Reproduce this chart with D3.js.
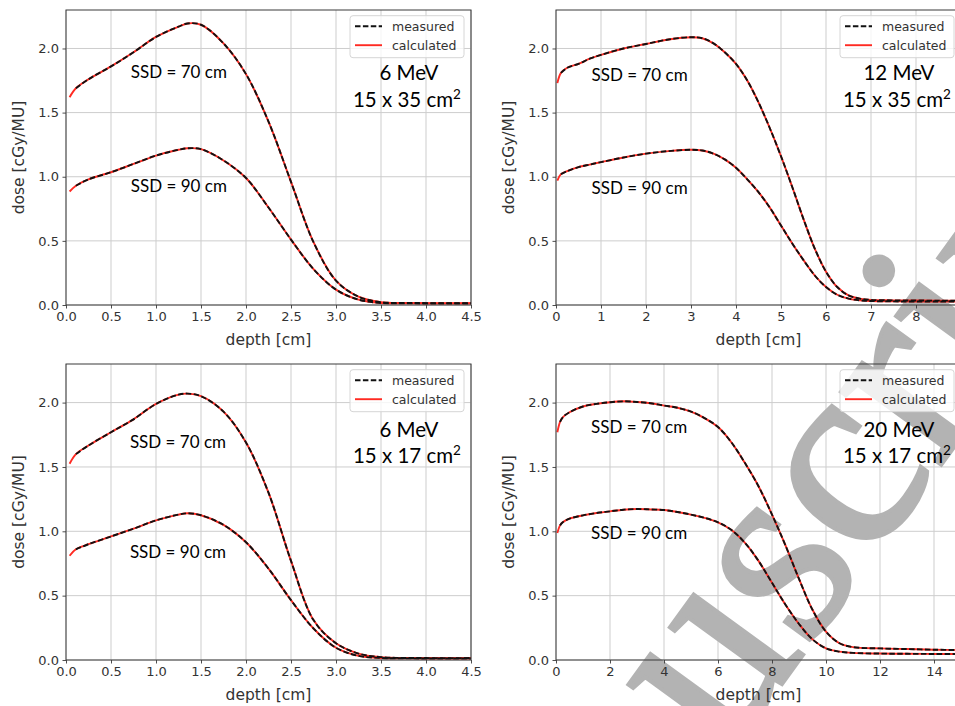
<!DOCTYPE html>
<html><head><meta charset="utf-8">
<script src="https://cdn.jsdelivr.net/npm/d3@7/dist/d3.min.js"></script>
<style>body{margin:0;background:#fff}svg{display:block}</style>
</head><body>
<svg id="chart" width="955" height="706"></svg>
<script>
// ---------- DATA ----------
// Panel 1: 6 MeV, 15 x 35 cm2
const p1DepthCalc = [0.04,0.11,0.25,0.5,0.75,1.0,1.25,1.35,1.5,1.75,2.0,2.25,2.5,2.75,3.0,3.25,3.5,3.75,4.0,4.5];
const p1Calc70 = [1.62,1.69,1.76,1.86,1.97,2.09,2.17,2.195,2.185,2.04,1.80,1.43,0.96,0.49,0.19,0.065,0.022,0.016,0.015,0.015];
const p1Calc90 = [0.885,0.93,0.98,1.035,1.10,1.165,1.21,1.222,1.215,1.127,0.99,0.76,0.51,0.28,0.12,0.042,0.016,0.013,0.012,0.012];
const p1DepthMeas = [0.11,0.25,0.5,0.75,1.0,1.25,1.35,1.5,1.75,2.0,2.25,2.5,2.75,3.0,3.25,3.5,3.75,4.0,4.5];
const p1Meas70 = [1.69,1.76,1.86,1.97,2.09,2.17,2.195,2.185,2.04,1.80,1.43,0.96,0.49,0.19,0.065,0.022,0.016,0.015,0.015];
const p1Meas90 = [0.93,0.98,1.035,1.10,1.165,1.21,1.222,1.215,1.127,0.99,0.76,0.51,0.28,0.12,0.042,0.016,0.013,0.012,0.012];

// Panel 2: 12 MeV, 15 x 35 cm2
const p2DepthCalc = [0.03,0.11,0.25,0.5,0.75,1,1.5,2,2.5,3,3.25,3.5,3.75,4,4.25,4.5,4.75,5,5.25,5.5,5.75,6,6.25,6.5,6.75,7,7.5,8,8.5,9];
const p2Calc70 = [1.73,1.81,1.85,1.88,1.92,1.95,2.0,2.035,2.07,2.088,2.08,2.04,1.97,1.88,1.75,1.58,1.38,1.16,0.92,0.67,0.44,0.26,0.14,0.075,0.05,0.04,0.036,0.035,0.034,0.034];
const p2Calc90 = [0.97,1.02,1.044,1.075,1.095,1.114,1.15,1.18,1.20,1.21,1.205,1.18,1.135,1.07,0.98,0.88,0.76,0.62,0.48,0.35,0.23,0.14,0.08,0.05,0.036,0.031,0.028,0.027,0.027,0.027];
const p2DepthMeas = [0.11,0.25,0.5,0.75,1,1.5,2,2.5,3,3.25,3.5,3.75,4,4.25,4.5,4.75,5,5.25,5.5,5.75,6,6.25,6.5,6.75,7,7.5,8,8.5,9];
const p2Meas70 = [1.81,1.85,1.88,1.92,1.95,2.0,2.035,2.07,2.088,2.08,2.04,1.97,1.88,1.75,1.58,1.38,1.16,0.92,0.67,0.44,0.26,0.14,0.075,0.05,0.04,0.036,0.035,0.034,0.034];
const p2Meas90 = [1.02,1.044,1.075,1.095,1.114,1.15,1.18,1.20,1.21,1.205,1.18,1.135,1.07,0.98,0.88,0.76,0.62,0.48,0.35,0.23,0.14,0.08,0.05,0.036,0.031,0.028,0.027,0.027,0.027];

// Panel 3: 6 MeV, 15 x 17 cm2
const p3DepthCalc = [0.04,0.11,0.25,0.5,0.75,1.0,1.25,1.35,1.5,1.75,2.0,2.25,2.5,2.75,3.0,3.25,3.5,3.75,4.0,4.5];
const p3Calc70 = [1.525,1.60,1.667,1.77,1.87,1.99,2.062,2.07,2.05,1.93,1.69,1.30,0.77,0.31,0.13,0.05,0.022,0.016,0.015,0.015];
const p3Calc90 = [0.81,0.86,0.90,0.96,1.02,1.085,1.13,1.14,1.125,1.05,0.915,0.71,0.465,0.245,0.095,0.032,0.016,0.013,0.012,0.012];
const p3DepthMeas = [0.11,0.25,0.5,0.75,1.0,1.25,1.35,1.5,1.75,2.0,2.25,2.5,2.75,3.0,3.25,3.5,3.75,4.0,4.5];
const p3Meas70 = [1.60,1.667,1.77,1.87,1.99,2.062,2.07,2.05,1.93,1.69,1.30,0.77,0.31,0.13,0.05,0.022,0.016,0.015,0.015];
const p3Meas90 = [0.86,0.90,0.96,1.02,1.085,1.13,1.14,1.125,1.05,0.915,0.71,0.465,0.245,0.095,0.032,0.016,0.013,0.012,0.012];

// Panel 4: 20 MeV, 15 x 17 cm2
const p4DepthCalc = [0.05,0.15,0.25,0.5,1,1.5,2,2.5,3,3.5,4,4.5,5,5.5,6,6.5,7,7.5,8,8.5,9,9.5,10,10.5,11,12,13,14,15];
const p4Calc70 = [1.77,1.85,1.886,1.925,1.97,1.99,2.003,2.01,2.005,1.995,1.977,1.96,1.93,1.88,1.81,1.69,1.53,1.35,1.13,0.89,0.63,0.39,0.22,0.13,0.10,0.09,0.085,0.08,0.077];
const p4Calc90 = [0.987,1.046,1.07,1.098,1.124,1.142,1.155,1.168,1.173,1.17,1.165,1.15,1.13,1.105,1.07,1.01,0.91,0.77,0.60,0.43,0.28,0.16,0.09,0.065,0.055,0.05,0.048,0.047,0.046];
const p4DepthMeas = [0.15,0.25,0.5,1,1.5,2,2.5,3,3.5,4,4.5,5,5.5,6,6.5,7,7.5,8,8.5,9,9.5,10,10.5,11,12,13,14,15];
const p4Meas70 = [1.85,1.886,1.925,1.97,1.99,2.003,2.01,2.005,1.995,1.977,1.96,1.93,1.88,1.81,1.69,1.53,1.35,1.13,0.89,0.63,0.39,0.22,0.13,0.10,0.09,0.085,0.08,0.077];
const p4Meas90 = [1.046,1.07,1.098,1.124,1.142,1.155,1.168,1.173,1.17,1.165,1.15,1.13,1.105,1.07,1.01,0.91,0.77,0.60,0.43,0.28,0.16,0.09,0.065,0.055,0.05,0.048,0.047,0.046];

// Ticks (labels beyond the visible right edge are not shown in the reference)
const xTicks6 = [0,0.5,1.0,1.5,2.0,2.5,3.0,3.5,4.0,4.5];
const xTicks12 = [0,1,2,3,4,5,6,7,8];
const xTicks20 = [0,2,4,6,8,10,12,14];
const yTicks = [0,0.5,1.0,1.5,2.0];

// Labels
const xLabel = "depth [cm]";
const yLabel = "dose [cGy/MU]";
const legendLabels = ["measured", "calculated"];
const ssdLabels = ["SSD = 70 cm", "SSD = 90 cm"];
const energyLabels = ["6 MeV", "12 MeV", "6 MeV", "20 MeV"];
const fieldLabels = ["15 x 35 cm", "15 x 35 cm", "15 x 17 cm", "15 x 17 cm"];
const watermarkText = "Manuscript";

// ---------- LAYOUT ----------
const W = 405;
const zip = (a, b) => a.map((v, i) => [v, b[i]]);
const panels = [
  {left:66, top:10, h:295, xMax:4.5, ticks:xTicks6, fmt:d3.format(".1f"),
   calc:[zip(p1DepthCalc,p1Calc70), zip(p1DepthCalc,p1Calc90)], meas:[zip(p1DepthMeas,p1Meas70), zip(p1DepthMeas,p1Meas90)],
   ssdX:0.72, ssdY:[1.82,0.93], eX:3.81, eY:1.81, fY:1.60},
  {left:556, top:10, h:295, xMax:9, ticks:xTicks12, fmt:d3.format("d"),
   calc:[zip(p2DepthCalc,p2Calc70), zip(p2DepthCalc,p2Calc90)], meas:[zip(p2DepthMeas,p2Meas70), zip(p2DepthMeas,p2Meas90)],
   ssdX:0.79, ssdY:[1.79,0.91], eX:7.62, eY:1.81, fY:1.60},
  {left:66, top:364, h:296, xMax:4.5, ticks:xTicks6, fmt:d3.format(".1f"),
   calc:[zip(p3DepthCalc,p3Calc70), zip(p3DepthCalc,p3Calc90)], meas:[zip(p3DepthMeas,p3Meas70), zip(p3DepthMeas,p3Meas90)],
   ssdX:0.71, ssdY:[1.69,0.84], eX:3.81, eY:1.79, fY:1.585},
  {left:556, top:364, h:296, xMax:15, ticks:xTicks20, fmt:d3.format("d"),
   calc:[zip(p4DepthCalc,p4Calc70), zip(p4DepthCalc,p4Calc90)], meas:[zip(p4DepthMeas,p4Meas70), zip(p4DepthMeas,p4Meas90)],
   ssdX:1.3, ssdY:[1.81,0.99], eX:12.7, eY:1.79, fY:1.585}
];

const svg = d3.select("#chart");
const back = svg.append("g");
const wmLayer = svg.append("g");
const front = svg.append("g");
const tickFont = "DejaVu Sans, sans-serif";
const annFont = "Lato, 'Open Sans', sans-serif";

panels.forEach((p, i) => {
  const x = d3.scaleLinear().domain([0, p.xMax]).range([p.left, p.left + W]);
  const y = d3.scaleLinear().domain([0, 2.3]).range([p.top + p.h, p.top]);
  const bottom = p.top + p.h, right = p.left + W;
  const gridX = p.ticks.concat([p.xMax]);

  // grid
  back.append("g").selectAll("line").data(gridX).join("line")
    .attr("x1", d => x(d)).attr("x2", d => x(d)).attr("y1", p.top).attr("y2", bottom)
    .attr("stroke", "#cdcdcd").attr("stroke-width", 1);
  back.append("g").selectAll("line").data(yTicks).join("line")
    .attr("x1", p.left).attr("x2", right).attr("y1", d => y(d)).attr("y2", d => y(d))
    .attr("stroke", "#cdcdcd").attr("stroke-width", 1);

  // clip
  const cid = "clip" + i;
  svg.append("clipPath").attr("id", cid).append("rect")
    .attr("x", p.left).attr("y", p.top - 2).attr("width", W).attr("height", p.h + 2);

  // curves
  const line = d3.line().x(d => x(d[0])).y(d => y(d[1])).curve(d3.curveCatmullRom.alpha(0.5));
  const cg = front.append("g").attr("clip-path", `url(#${cid})`);
  p.calc.forEach(s => cg.append("path").attr("d", line(s)).attr("fill", "none")
    .attr("stroke", "#ff2a22").attr("stroke-width", 1.9));
  p.meas.forEach(s => cg.append("path").attr("d", line(s)).attr("fill", "none")
    .attr("stroke", "#111").attr("stroke-width", 1.9).attr("stroke-dasharray", "5.5,2.4"));

  // spines
  front.append("rect").attr("x", p.left).attr("y", p.top).attr("width", W).attr("height", p.h)
    .attr("fill", "none").attr("stroke", "#3a3a3a").attr("stroke-width", 1);

  // axes
  const xa = front.append("g").attr("transform", `translate(0,${bottom})`)
    .call(d3.axisBottom(x).tickValues(p.ticks).tickFormat(p.fmt).tickSize(3.5).tickPadding(3.5));
  const ya = front.append("g").attr("transform", `translate(${p.left},0)`)
    .call(d3.axisLeft(y).tickValues(yTicks).tickFormat(d3.format(".1f")).tickSize(3.5).tickPadding(3.5));
  [xa, ya].forEach(a => {
    a.select(".domain").remove();
    a.selectAll(".tick line").attr("stroke", "#3a3a3a").attr("stroke-width", 0.9);
    a.selectAll(".tick text").attr("fill", "#333").attr("font-family", tickFont).attr("font-size", 13);
  });

  // axis labels
  front.append("text").text(xLabel).attr("x", p.left + W / 2).attr("y", bottom + 35)
    .attr("dy", "0.35em").attr("text-anchor", "middle")
    .attr("font-family", tickFont).attr("font-size", 15.5).attr("fill", "#333");
  front.append("text").text(yLabel)
    .attr("transform", `translate(${p.left - 47},${p.top + p.h / 2}) rotate(-90)`)
    .attr("dy", "0.35em").attr("text-anchor", "middle")
    .attr("font-family", tickFont).attr("font-size", 15.5).attr("fill", "#333");

  // legend
  const lx = right - 121, ly = p.top + 5.7;
  const lg = front.append("g");
  lg.append("rect").attr("x", lx).attr("y", ly).attr("width", 114).attr("height", 42).attr("rx", 3)
    .attr("fill", "#fff").attr("fill-opacity", 0.8).attr("stroke", "#d6d6d6");
  legendLabels.forEach((lab, k) => {
    const yy = ly + 10.5 + k * 19;
    lg.append("line").attr("x1", lx + 5).attr("x2", lx + 32).attr("y1", yy).attr("y2", yy)
      .attr("stroke", k === 0 ? "#111" : "#ff2a22").attr("stroke-width", 1.9)
      .attr("stroke-dasharray", k === 0 ? "5.5,2.4" : null);
    lg.append("text").text(lab).attr("x", lx + 42).attr("y", yy).attr("dy", "0.35em")
      .attr("font-family", tickFont).attr("font-size", 12.5).attr("fill", "#333");
  });

  // annotations
  ssdLabels.forEach((lab, k) => {
    front.append("text").text(lab).attr("x", x(p.ssdX)).attr("y", y(p.ssdY[k])).attr("dy", "0.35em")
      .attr("font-family", annFont).attr("font-size", 17).attr("fill", "#000");
  });
  front.append("text").text(energyLabels[i]).attr("x", x(p.eX)).attr("y", y(p.eY)).attr("dy", "0.35em")
    .attr("text-anchor", "middle").attr("font-family", annFont).attr("font-size", 20.5).attr("fill", "#000");
  const ft = front.append("text").attr("x", x(p.eX) - 2).attr("y", y(p.fY)).attr("dy", "0.35em")
    .attr("text-anchor", "middle").attr("font-family", annFont).attr("font-size", 20.5).attr("fill", "#000");
  ft.append("tspan").text(fieldLabels[i]);
  ft.append("tspan").text("2").attr("font-size", 13.5).attr("dy", "-0.6em");
});

// watermark (partly outside the frame, as in the reference)
const wm = wmLayer.append("text").text(watermarkText)
  .attr("font-family", "'Liberation Serif', 'DejaVu Serif', serif").attr("font-size", 270)
  .attr("fill", "#b3b3b3").attr("stroke", "#b3b3b3").attr("stroke-width", 4);
const node = wm.node();
const pre = node.getSubStringLength(0, 7);
const iw = node.getSubStringLength(7, 1);
wm.attr("x", -(pre + iw / 2)).attr("transform", "translate(1013,366) rotate(-54)");
</script>
</body></html>
